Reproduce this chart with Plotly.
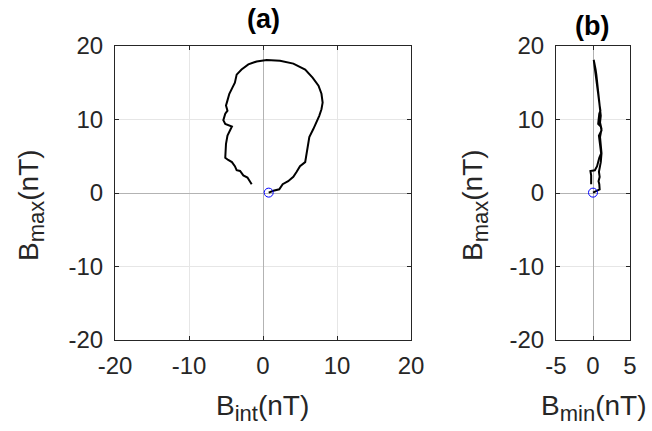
import plotly.graph_objects as go

# Hodogram data (nT), in time order
b_int = [0.77, 1.4, 2.2, 2.66, 3.4, 4.1, 4.55, 5.0, 5.7, 5.9, 6.0, 6.26, 6.8, 7.25, 7.6, 7.9,
         8.06, 7.9, 7.5, 6.7, 5.7, 4.1, 2.3, 0.5, -0.86, -1.98, -2.9, -3.56, -3.8, -4.1, -4.55,
         -4.8, -5.0, -4.8, -5.1, -5.36, -5.1, -4.2, -4.46, -4.8, -5.0, -5.0, -5.1, -4.7, -4.2,
         -3.8, -3.56, -3.1, -2.66, -2.1, -1.85, -1.53]
b_max = [0.05, 0.3, 0.5, 1.2, 1.6, 2.2, 2.9, 3.65, 4.2, 5.4, 6.5, 7.6, 8.7, 9.6, 10.5, 11.4,
         12.3, 13.5, 14.6, 15.7, 16.8, 17.6, 18.0, 18.1, 17.9, 17.5, 16.8, 16.1, 15.0, 14.4, 13.5,
         12.6, 11.9, 11.2, 10.8, 9.9, 9.4, 9.05, 8.5, 7.8, 6.7, 5.4, 4.8, 4.5, 4.2,
         3.65, 3.1, 3.0, 2.4, 2.1, 1.75, 1.2]
b_min = [0.0, 0.45, 0.9, 0.85, 0.75, 0.9, 0.8, 0.95, 1.05, 1.15, 1.05, 0.95, 1.15, 0.95, 1.05, 0.9,
         0.85, 0.7, 0.55, 0.45, 0.3, 0.2, 0.1, 0.1, 0.15, 0.2, 0.35, 0.45, 0.55, 0.65, 0.75,
         0.8, 0.9, 1.0, 0.85, 0.75, 0.7, 1.05, 1.15, 0.8, 0.95, 1.1, 0.85, 0.75, 0.7,
         0.55, 0.25, -0.35, -0.25, -0.25, -0.25, -0.25]

ticks_a = [-20, -10, 0, 10, 20]
ticks_b_x = [-5, 0, 5]
ticks_b_y = [-20, -10, 0, 10, 20]

W, H = 652, 431
FONT = "Liberation Sans, Arial, sans-serif"
TXT = "#262626"

fig = go.Figure()
fig.add_trace(go.Scatter(x=b_int, y=b_max, mode="lines", line=dict(color="black", width=2),
                         xaxis="x", yaxis="y", showlegend=False))
fig.add_trace(go.Scatter(x=[b_int[0]], y=[b_max[0]], mode="markers",
                         marker=dict(symbol="circle-open", size=9, color="blue", line=dict(width=1)),
                         xaxis="x", yaxis="y", showlegend=False))
fig.add_trace(go.Scatter(x=b_min, y=b_max, mode="lines", line=dict(color="black", width=2),
                         xaxis="x2", yaxis="y2", showlegend=False))
fig.add_trace(go.Scatter(x=[b_min[0]], y=[b_max[0]], mode="markers",
                         marker=dict(symbol="circle-open", size=9, color="blue", line=dict(width=1)),
                         xaxis="x2", yaxis="y2", showlegend=False))

def px(x):
    return x / W

def py(y):
    return 1 - y / H

def lbl(v):
    return [str(t) for t in v]

common = dict(showline=True, linecolor=TXT, linewidth=1, mirror="ticks", ticks="inside",
              ticklen=4, tickcolor=TXT, tickwidth=1, showgrid=True, gridcolor="#e6e6e6",
              gridwidth=1, zeroline=True, zerolinecolor="#b3b3b3", zerolinewidth=1,
              automargin=False,
              tickfont=dict(family=FONT, size=24, color=TXT), fixedrange=True)

ydom = [py(340), py(46)]
fig.update_layout(
    width=W, height=H, margin=dict(l=0, r=0, t=0, b=0, pad=0, autoexpand=False),
    paper_bgcolor="white", plot_bgcolor="white",
    xaxis=dict(domain=[px(115), px(411)], range=[-20, 20], tickvals=ticks_a,
               ticktext=lbl(ticks_a), anchor="y", ticklabelstandoff=4, **common),
    yaxis=dict(domain=ydom, range=[-20, 20], tickvals=ticks_a, ticktext=lbl(ticks_a),
               anchor="x", ticklabelstandoff=6, **common),
    xaxis2=dict(domain=[px(556), px(630)], range=[-5, 5], tickvals=ticks_b_x,
                ticktext=lbl(ticks_b_x), anchor="y2", ticklabelstandoff=4, **common),
    yaxis2=dict(domain=ydom, range=[-20, 20], tickvals=ticks_b_y, ticktext=lbl(ticks_b_y),
                anchor="x2", ticklabelstandoff=6, **common),
)

lab = dict(family=FONT, size=28, color=TXT)
SUB = '<sub><span style="font-size:22px">%s</span></sub>'
ann = [
    dict(text="<b>(a)</b>", x=px(263), y=py(19), font=dict(family=FONT, size=27, color="black")),
    dict(text="<b>(b)</b>", x=px(592), y=py(26), font=dict(family=FONT, size=27, color="black")),
    dict(text="B" + SUB % "int" + "(nT)", x=px(262), y=py(408), font=lab),
    dict(text="B" + SUB % "min" + "(nT)", x=px(593), y=py(408), font=lab),
    dict(text="B" + SUB % "max" + "(nT)", x=px(31), y=py(205), font=lab, textangle=-90),
    dict(text="B" + SUB % "max" + "(nT)", x=px(475), y=py(205), font=lab, textangle=-90),
]
for a in ann:
    fig.add_annotation(xref="paper", yref="paper", showarrow=False,
                       xanchor="center", yanchor="middle", **a)

fig.write_html("out.html", config={"displayModeBar": False},
               post_script="document.body.style.margin='0px';document.body.style.overflow='hidden';")
